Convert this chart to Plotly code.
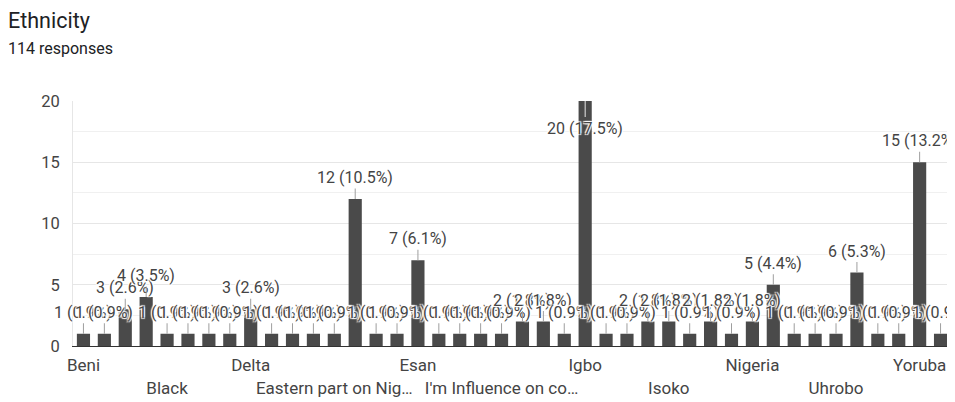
import plotly.graph_objects as go

categories = [
    "Beni", "Benin", "Bini", "Bini ", "Black", "Black African", "Black Nigerian",
    "Christian", "Delta", "Delta Igbo", "Delta state", "Eastern",
    "Eastern part on Nigeria", "Edo", "Edo state", "Efik", "Esan", "Esan Edo",
    "Fulani", "Hausa", "I'm Influence on constituting", "Ibibio", "Idoma", "Ife",
    "Igbo", "Igbo/Yoruba", "Ijaw", "Ika", "Isoko", "Itsekiri", "Kogi", "Mixed",
    "Nigeria", "Nigerian", "Ogoni", "Tiv", "Uhrobo", "Urhobo", "Urhobo/Edo",
    "White", "Yoruba", "Yoruba/Igbo",
]
counts = [
    1, 1, 3, 4, 1, 1, 1, 1, 3, 1, 1, 1, 1, 12, 1, 1, 7, 1, 1, 1, 1, 2, 2, 1,
    20, 1, 1, 2, 2, 1, 2, 1, 2, 5, 1, 1, 1, 6, 1, 1, 15, 1,
]
tick_every = 4
y_ticks = [0, 5, 10, 15, 20]

total = sum(counts)
# page body adds an 8px offset; margins compensate for it
W, H = 955, 402
L, R, T, B = 65, 12, 93, 56
pw, ph = W - L - R, H - T - B

TXT = "#444444"
HALO = "1px 1px 1px #fff, -1px -1px 1px #fff, 1px -1px 1px #fff, -1px 1px 1px #fff"

fig = go.Figure(go.Bar(
    x=categories, y=counts, marker=dict(color="#4a4a4a", line=dict(width=0)),
    width=0.63, hovertemplate="%{x}: %{y}<extra></extra>",
))

def trunc(s, n=19):
    return s if len(s) <= n else s[:n] + "…"

tickvals = categories[::tick_every]
ticktext = [("" if k % 2 == 0 else "<br>") + trunc(c) for k, c in enumerate(tickvals)]

annotations = []
ymax = y_ticks[-1]
for c, v in zip(categories, counts):
    label = f"{v} ({100 * v / total:.1f}%)"
    inside = v >= ymax
    annotations.append(dict(
        x=c, y=v, xref="x", yref="y", text=label, showarrow=True,
        arrowhead=0, arrowwidth=1, arrowcolor="#e8e8e8" if inside else "#9e9e9e",
        ax=0, ay=27 if inside else -21.5, standoff=0,
        font=dict(family="Roboto", size=16, color=TXT, shadow=HALO),
    ))

annotations.append(dict(
    text="Ethnicity", xref="paper", yref="paper", x=(-2 - L) / pw,
    y=(H - B - 10) / ph, xanchor="left", yanchor="middle", showarrow=False,
    font=dict(family="Roboto", size=21.5, color="#202124"),
))
annotations.append(dict(
    text="114 responses", xref="paper", yref="paper", x=(-2 - L) / pw,
    y=(H - B - 39) / ph, xanchor="left", yanchor="middle", showarrow=False,
    font=dict(family="Roboto", size=16, color="#202124"),
))

fig.update_layout(
    width=W, height=H, margin=dict(l=L, r=R, t=T, b=B),
    paper_bgcolor="white", plot_bgcolor="white", showlegend=False,
    font=dict(family="Roboto", color=TXT),
    annotations=annotations,
    xaxis=dict(
        type="category", range=[-0.5, len(categories) - 0.5],
        tickmode="array", tickvals=tickvals, ticktext=ticktext,
        tickangle=0, showgrid=False, showline=True, linecolor="#333333",
        linewidth=1, ticks="", tickfont=dict(size=17, color=TXT),
        zeroline=False, ticklabelstandoff=4,
    ),
    yaxis=dict(
        range=[0, ymax], tickmode="array", tickvals=y_ticks,
        showgrid=True, gridcolor="#e6e6e6", gridwidth=1, zeroline=False,
        minor=dict(dtick=2.5, showgrid=True, gridcolor="#f0f0f0"),
        showline=True, linecolor="#e6e6e6", ticks="",
        tickfont=dict(size=16.5, color=TXT), ticklabelstandoff=9,
    ),
)

fig.write_html("out.html")
